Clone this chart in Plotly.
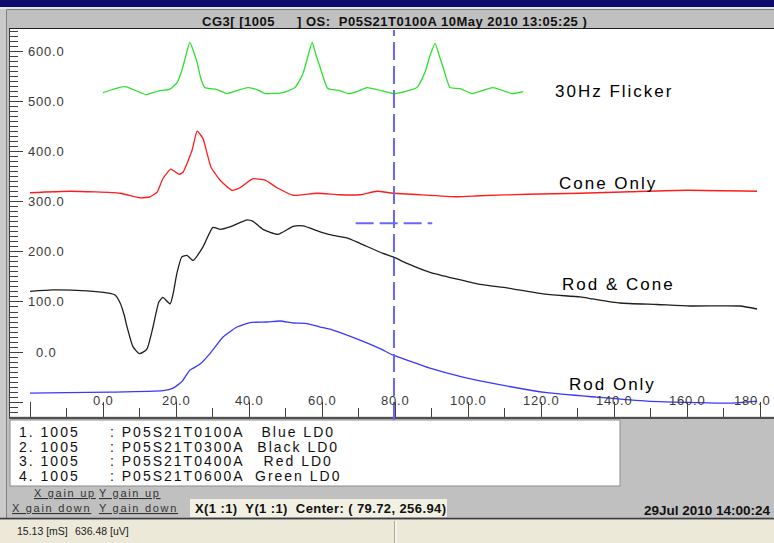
import plotly.graph_objects as go

W, H = 774, 543

# ---------------- data (time in ms, amplitude in uV, as displayed) ----------------
flicker_t = [0, 6.0, 11.8, 15.1, 18.4, 20.3, 21.6, 22.5, 23.8, 24.9, 25.8, 26.8, 27.9, 31.2, 34.0,
             36.7, 39.7, 42.2, 44.4, 49.3, 52.6, 54.8, 56.2, 57.3, 58.4, 59.5, 61.6, 64.9, 67.1, 69.6,
             72.3, 75.1, 79.5, 82.7, 86.0, 88.2, 89.6, 91.0, 92.1, 93.2, 95.1, 97.8, 101.1, 106.8, 112.1, 115.1]
flicker_v = [518, 530, 514, 521, 525, 538, 562, 586, 618, 598, 578, 546, 528, 524, 516,
             522, 528, 524, 516, 518, 528, 556, 592, 618, 592, 568, 526, 522, 516, 520,
             528, 524, 516, 520, 528, 558, 592, 616, 592, 568, 528, 526, 516, 528, 516, 520]

cone_t = [-20.0, -9.0, 4.7, 10.1, 12.9, 14.8, 16.4, 18.6, 20.8, 21.9, 24.4, 25.8, 27.4, 28.5, 29.6,
          32.1, 35.3, 37.5, 41.1, 44.4, 47.7, 52.1, 58.6, 64.9, 70.4, 75.1, 79.5, 84.9, 97.0, 103.3,
          116.2, 130.7, 144.4, 160.0, 179.2]
cone_v = [318, 321, 317, 308, 310, 319, 346, 365, 355, 359, 403, 441, 426, 397, 369,
          343, 323, 328, 346, 343, 328, 313, 317, 314, 314, 321, 317, 315, 310, 312,
          315, 317, 320, 323, 321]

rodcone_t = [-20.0, -13.7, -4.4, 1.1, 3.3, 4.7, 5.8, 6.6, 8.2, 9.9, 11.0, 12.1, 13.7, 15.3, 16.4,
             18.4, 19.2, 20.3, 21.6, 23.0, 24.7, 27.4, 30.1, 32.1, 34.8, 39.5, 41.1, 43.8, 47.9, 52.1,
             54.8, 59.5, 63.0, 66.8, 70.4, 76.7, 79.5, 83.3, 89.6, 103.3, 110.7, 120.5, 130.7, 134.2,
             141.6, 151.8, 160.8, 174.5, 179.2]
rodcone_v = [121, 124, 122, 118, 114, 98, 74, 50, 11, -3, 0, 7, 50, 100, 109,
             96, 116, 159, 190, 193, 183, 210, 249, 245, 250, 264, 261, 245, 235, 251,
             252, 240, 233, 228, 217, 197, 190, 177, 159, 135, 128, 116, 110, 106,
             98, 95, 92, 92, 86]

rod_t = [-20.0, -9.9, 1.9, 16.4, 19.2, 21.6, 23.8, 26.6, 29.3, 32.9, 36.7, 40.3, 44.9, 48.5, 52.1,
         55.9, 59.5, 63.0, 70.4, 75.9, 79.5, 83.3, 89.6, 98.6, 107.9, 121.6, 135.3, 149.0, 162.7,
         171.8, 179.2]
rod_v = [-82, -81, -80, -77, -72, -59, -36, -24, -3, 30, 50, 59, 60, 62, 58,
         57, 50, 44, 24, 7, -6, -16, -32, -50, -64, -81, -90, -98, -101,
         -102, -98]

x_tick_vals = [0, 20, 40, 60, 80, 100, 120, 140, 160, 180]
x_tick_text = ["0.0", "20.0", "40.0", "60.0", "80.0", "100.0", "120.0", "140.0", "160.0", "180.0"]
y_tick_vals = [0, 100, 200, 300, 400, 500, 600]
y_tick_text = ["0.0", "100.0", "200.0", "300.0", "400.0", "500.0", "600.0"]

trace_names = ["30Hz Flicker", "Cone Only", "Rod &amp; Cone", "Rod Only"]

legend_index = ["1. 1005", "2. 1005", "3. 1005", "4. 1005"]
legend_file = [": P05S21T0100A", ": P05S21T0300A", ": P05S21T0400A", ": P05S21T0600A"]
legend_desc = ["Blue LD0", "Black LD0", "Red LD0", "Green LD0"]

cursor_t = 79.72
cursor_v = 256.94

title_left = "CG3[ [1005"
title_right = "] OS:&nbsp; P05S21T0100A 10May 2010 13:05:25 )"
record_date = "29Jul 2010 14:00:24"
status_time = "15.13 [mS]"
status_amp = "636.48 [uV]"

# ---------------- helpers ----------------
def px(x):
    return x / W


def py(y):
    return 1 - y / H


def ls(text, spacing):
    return f'<span style="letter-spacing:{spacing}px">{text}</span>'


FONT = "Liberation Sans, Arial, sans-serif"

fig = go.Figure()
series = [
    (flicker_t, flicker_v, "#2ee02e"),
    (cone_t, cone_v, "#ff1c1c"),
    (rodcone_t, rodcone_v, "#1e1e1e"),
    (rod_t, rod_v, "#3838ff"),
]
for t, v, c in series:
    fig.add_trace(go.Scatter(x=t, y=v, mode="lines", hoverinfo="skip", showlegend=False,
                             line=dict(color=c, width=1.3, shape="spline", smoothing=0.5)))

x_lo = -(103 - 10) / 3.65
x_hi = x_lo + 764 / 3.65
y_px = 0.50167
y_lo = -(416.5 - 352) / y_px
y_hi = (352 - 28) / y_px

shapes = [
    # window top bar
    dict(type="rect", xref="paper", yref="paper", x0=0, x1=1, y0=py(7), y1=1,
         fillcolor="#0c0c6c", line_width=0, layer="below"),
    dict(type="rect", xref="paper", yref="paper", x0=0, x1=1, y0=py(9), y1=py(7),
         fillcolor="#e4e4e4", line_width=0, layer="below"),
    dict(type="rect", xref="paper", yref="paper", x0=0, x1=px(6), y0=py(518), y1=py(9),
         fillcolor="#cacaca", line_width=0, layer="below"),
    dict(type="line", xref="paper", yref="paper", x0=px(7), x1=1, y0=py(9.5), y1=py(9.5),
         line=dict(color="#808080", width=1)),
    dict(type="line", xref="paper", yref="paper", x0=px(6.5), x1=px(6.5), y0=py(518), y1=py(9.5),
         line=dict(color="#808080", width=1)),
    dict(type="line", xref="paper", yref="paper", x0=px(9), x1=1, y0=py(28.5), y1=py(28.5),
         line=dict(color="#202020", width=1)),
    # legend box
    dict(type="rect", xref="paper", yref="paper", x0=px(10), x1=px(620), y0=py(486), y1=py(420),
         fillcolor="white", line=dict(color="#8c8c8c", width=1)),
    # centre readout background
    dict(type="rect", xref="paper", yref="paper", x0=px(190), x1=px(447), y0=py(517), y1=py(499),
         fillcolor="#f1f0e3", line_width=0),
    # status bar
    dict(type="line", xref="paper", yref="paper", x0=0, x1=1, y0=py(518.5), y1=py(518.5),
         line=dict(color="#3c3c3c", width=1.5)),
    dict(type="rect", xref="paper", yref="paper", x0=0, x1=1, y0=0, y1=py(520),
         fillcolor="#ece9d8", line_width=0),
    dict(type="line", xref="paper", yref="paper", x0=px(394.5), x1=px(394.5), y0=0, y1=py(521),
         line=dict(color="#aca899", width=1)),
    dict(type="line", xref="paper", yref="paper", x0=px(396), x1=px(396), y0=0, y1=py(521),
         line=dict(color="#ffffff", width=1)),
    # cursor
    dict(type="line", xref="x", yref="paper", x0=cursor_t, x1=cursor_t, y0=py(420), y1=py(30),
         line=dict(color="#6868f6", width=2, dash="18px,6px"), layer="above"),
    dict(type="line", xref="x", yref="y", x0=cursor_t - 10.5, x1=cursor_t + 10.5,
         y0=cursor_v, y1=cursor_v,
         line=dict(color="#6868f6", width=2, dash="18px,6px"), layer="above"),
]

ann = []
# y tick labels
for v, s in zip(y_tick_vals, y_tick_text):
    ann.append(dict(x=px(46), xref="paper", y=v, yref="y", text=ls(s, 0.8), showarrow=False,
                    xanchor="center", yanchor="middle",
                    font=dict(family=FONT, size=13, color="#3a3a3a")))
# x tick labels (last one kept inside the window edge)
for i, (t, s) in enumerate(zip(x_tick_vals, x_tick_text)):
    last = i == len(x_tick_vals) - 1
    ann.append(dict(x=px(773) if last else t, xref="paper" if last else "x",
                    y=py(400), yref="paper", text=ls(s, 0.8), showarrow=False,
                    xanchor="right" if last else "center", yanchor="middle",
                    font=dict(family=FONT, size=13, color="#3a3a3a")))
# trace labels
label_pos = [(123.3, 520), (124.4, 337), (125.2, 134), (127.1, -64)]
for name, (t, v) in zip(trace_names, label_pos):
    ann.append(dict(x=t, xref="x", y=v, yref="y", text=ls(name, 2), showarrow=False,
                    xanchor="left", yanchor="middle",
                    font=dict(family=FONT, size=17, color="#000000")))


# legend: one multi-line text per column, line pitch 14.5 px
def col(items):
    return "<br>".join(f'<span style="font-size:14px;letter-spacing:2px">{s}</span>' for s in items)


lf = dict(family=FONT, size=14.5 / 1.3, color="#111111")
for items, xx, anchor in [(legend_index, 17, "left"), (legend_file, 108, "left"),
                          (legend_desc, 298, "center")]:
    ann.append(dict(x=px(xx), xref="paper", y=py(453.5), yref="paper", text=col(items),
                    showarrow=False, xanchor=anchor, yanchor="middle", align=anchor, font=lf))

# title
tf = dict(family=FONT, size=13, color="#111111")
ann.append(dict(x=px(200), xref="paper", y=py(21), yref="paper", text="<b>" + ls(title_left, 0.5) + "</b>",
                showarrow=False, xanchor="left", yanchor="middle", font=tf))
ann.append(dict(x=px(295), xref="paper", y=py(21), yref="paper", text="<b>" + ls(title_right, 0.5) + "</b>",
                showarrow=False, xanchor="left", yanchor="middle", font=tf))
# gain controls
gf = dict(family=FONT, size=11, color="#333333")
for txt, xx, yy in [("X gain up", 32, 493), ("Y gain up", 97, 493),
                    ("X gain down", 10, 508), ("Y gain down", 97, 508)]:
    ann.append(dict(x=px(xx), xref="paper", y=py(yy), yref="paper", text="<u>" + ls(txt, 1.7) + "</u>",
                    showarrow=False, xanchor="left", yanchor="middle", font=gf))
# centre readout
ann.append(dict(x=px(193), xref="paper", y=py(508), yref="paper",
                text="<b>" + ls(f"X(1 :1)&nbsp; Y(1 :1)&nbsp; Center: ( {cursor_t:.2f}, {cursor_v:.2f})", 0.4) + "</b>",
                showarrow=False, xanchor="left", yanchor="middle",
                font=dict(family=FONT, size=13, color="#111111")))
ann.append(dict(x=px(773), xref="paper", y=py(510), yref="paper",
                text="<b>" + record_date + "</b>",
                showarrow=False, xanchor="right", yanchor="middle",
                font=dict(family=FONT, size=13.5, color="#111111")))
# status bar
sf = dict(family=FONT, size=10.5, color="#222222")
ann.append(dict(x=px(15), xref="paper", y=py(531), yref="paper", text=status_time,
                showarrow=False, xanchor="left", yanchor="middle", font=sf))
ann.append(dict(x=px(73), xref="paper", y=py(531), yref="paper", text=status_amp,
                showarrow=False, xanchor="left", yanchor="middle", font=sf))

fig.update_layout(
    width=W, height=H,
    margin=dict(l=0, r=0, t=0, b=0),
    paper_bgcolor="#c0c0c0",
    plot_bgcolor="#ffffff",
    showlegend=False,
    shapes=shapes,
    annotations=ann,
    xaxis=dict(domain=[px(10), 1], range=[x_lo, x_hi], showgrid=False, zeroline=False,
               showline=True, linecolor="#505050", linewidth=2,
               ticks="inside", ticklen=15, tickwidth=1, tickcolor="#404040",
               tick0=0, dtick=20, showticklabels=False, fixedrange=True,
               minor=dict(dtick=10, ticks="inside", ticklen=9, tickwidth=1, tickcolor="#404040",
                          showgrid=False)),
    yaxis=dict(domain=[py(416.5), py(28.5)], range=[y_lo, y_hi], showgrid=False, zeroline=False,
               showline=True, linecolor="#404040", linewidth=1,
               ticks="inside", ticklen=13, tickwidth=1, tickcolor="#404040",
               tick0=0, dtick=100, showticklabels=False, fixedrange=True,
               minor=dict(dtick=10, ticks="inside", ticklen=8, tickwidth=1, tickcolor="#404040",
                          showgrid=False)),
)

fig.write_html("out.html", config={"displayModeBar": False},
               post_script="document.body.style.margin='0px';document.body.style.overflow='hidden';")
